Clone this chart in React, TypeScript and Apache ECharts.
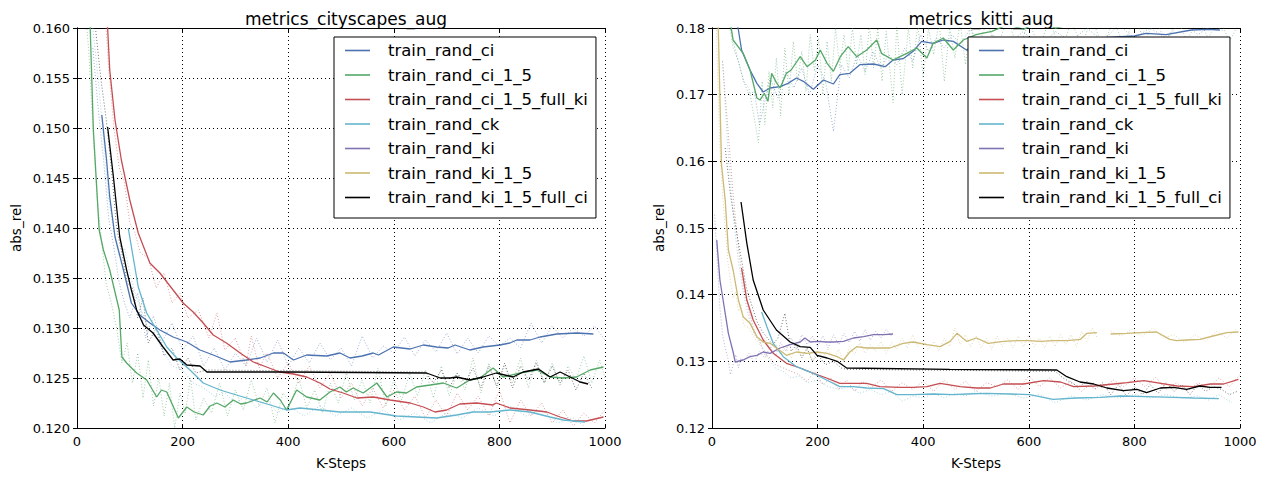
import React, { useEffect, useRef } from "react";
import * as echarts from "echarts";

type P = [number, number | string];

const NAMES = [
  "train_rand_ci",
  "train_rand_ci_1_5",
  "train_rand_ci_1_5_full_ki",
  "train_rand_ck",
  "train_rand_ki",
  "train_rand_ki_1_5",
  "train_rand_ki_1_5_full_ci",
];
const COLORS = ["#4C72B0", "#55A868", "#C44E52", "#64B5CD", "#8172B2", "#CCB974", "#000000"];

const TITLES = ["metrics_cityscapes_aug", "metrics_kitti_aug"];

// ---------- cityscapes (left) smoothed ----------
const L_ci: P[] = [[47,0.1513],[56,0.1468],[62,0.1431],[72,0.1391],[88,0.1358],[103,0.1325],[119,0.1313],[138,0.1305],[157,0.1298],[182,0.1291],[208,0.1286],[233,0.1278],[258,0.1273],[290,0.1266],[321,0.1268],[347,0.127],[372,0.1275],[391,0.1275],[410,0.1268],[435,0.1273],[473,0.1272],[498,0.1275],[517,0.127],[540,0.1272],[561,0.1275],[571,0.1273],[599,0.1281],[631,0.1279],[656,0.1283],[681,0.1281],[703,0.128],[716,0.1283],[744,0.1278],[769,0.1281],[801,0.1283],[820,0.1285],[833,0.1288],[858,0.1288],[877,0.1291],[909,0.1294],[947,0.1295],[978,0.1294]];
const L_ci15: P[] = [[12,0.172],[25,0.16],[31,0.1498],[42,0.1398],[50,0.1378],[62,0.1358],[80,0.1318],[85,0.1271],[94,0.1265],[113,0.1255],[132,0.1248],[151,0.1231],[160,0.1238],[170,0.1236],[192,0.121],[208,0.1221],[222,0.1216],[239,0.1213],[252,0.1222],[265,0.1225],[280,0.1221],[296,0.1228],[310,0.1224],[321,0.1225],[347,0.123],[360,0.1226],[372,0.1235],[385,0.1228],[397,0.1218],[416,0.1238],[435,0.1231],[460,0.1228],[479,0.1236],[498,0.1241],[510,0.1236],[523,0.124],[542,0.1235],[568,0.1245],[587,0.1231],[605,0.1236],[624,0.1235],[643,0.1241],[669,0.1243],[694,0.1245],[719,0.124],[744,0.1248],[763,0.125],[788,0.126],[807,0.1251],[839,0.1255],[871,0.1258],[896,0.1251],[921,0.125],[946,0.1251],[972,0.1258],[997,0.1261]];
const L_fullki: P[] = [[52,0.166],[58,0.16],[62,0.1558],[72,0.1508],[84,0.1468],[100,0.1428],[116,0.1395],[138,0.1365],[157,0.1355],[182,0.1338],[201,0.1325],[220,0.1316],[239,0.1305],[258,0.1293],[283,0.1285],[309,0.1275],[334,0.1266],[359,0.1261],[384,0.1256],[410,0.1254],[435,0.1251],[460,0.1245],[479,0.1239],[504,0.1235],[530,0.123],[561,0.1231],[593,0.1228],[631,0.1225],[656,0.1221],[678,0.1216],[700,0.1218],[725,0.1224],[757,0.1225],[788,0.1223],[794,0.1225],[820,0.122],[858,0.1218],[890,0.1216],[915,0.1211],[940,0.1207],[965,0.1207],[997,0.1211]];
const L_ck: P[] = [[97,0.14],[116,0.1341],[132,0.1315],[151,0.1298],[170,0.1281],[189,0.127],[214,0.1258],[239,0.1245],[271,0.1238],[302,0.1233],[334,0.1228],[366,0.1223],[397,0.1218],[422,0.122],[460,0.1218],[498,0.1216],[517,0.1216],[555,0.1216],[605,0.1212],[643,0.1211],[681,0.121],[719,0.1213],[750,0.1216],[782,0.1216],[820,0.1218],[858,0.1216],[896,0.1211],[921,0.1208],[962,0.1206]];
const L_fullci: P[] = [[58,0.1501],[69,0.1451],[81,0.1391],[94,0.1358],[103,0.1338],[113,0.1318],[126,0.1303],[144,0.1295],[163,0.1281],[182,0.1268],[195,0.1269],[208,0.1263],[233,0.1262],[246,0.1256],[400,0.1256],[662,0.1255],[688,0.125],[707,0.125],[719,0.1251],[744,0.1248],[769,0.1251],[794,0.1255],[826,0.1251],[845,0.1256],[874,0.1259],[896,0.1251],[915,0.1256],[934,0.1251],[953,0.1246],[968,0.1244]];

// ---------- cityscapes (left) raw ----------
const L_ci_raw: P[] = [[30,0.158],[40,0.152],[50,0.147],[60,0.141],[70,0.138],[80,0.1345],[90,0.1325],[100,0.131],[115,0.1335],[130,0.129],[145,0.1312],[160,0.1285],[180,0.1305],[200,0.1278],[220,0.1292],[240,0.1262],[260,0.128],[280,0.1258],[300,0.1275],[320,0.1262],[340,0.129],[360,0.1266],[380,0.1288],[400,0.1262],[420,0.128],[440,0.1265],[460,0.1285],[480,0.1268],[500,0.128],[520,0.1262],[540,0.1292],[560,0.127],[580,0.1282],[600,0.1275],[620,0.1291],[640,0.1272],[660,0.1288],[680,0.1276],[700,0.1295],[720,0.1274],[740,0.129],[760,0.1275],[780,0.1292],[800,0.1282],[820,0.129],[840,0.128],[860,0.1305],[880,0.1285],[900,0.1302],[920,0.129],[940,0.13],[960,0.1292],[980,0.1302],[1000,0.1288]];
const L_ci15_raw: P[] = [[15,0.162],[22,0.158],[30,0.15],[38,0.143],[46,0.139],[55,0.1345],[65,0.1325],[75,0.13],[85,0.1265],[95,0.1285],[105,0.1245],[115,0.1275],[125,0.123],[135,0.1268],[145,0.1222],[155,0.125],[165,0.1212],[175,0.1245],[185,0.12],[195,0.1235],[205,0.1215],[215,0.125],[225,0.1208],[240,0.123],[255,0.1215],[270,0.1245],[285,0.1212],[300,0.1238],[315,0.1218],[330,0.1248],[345,0.1222],[360,0.124],[375,0.1205],[390,0.1235],[405,0.1225],[420,0.125],[435,0.122],[450,0.1238],[465,0.1215],[480,0.1245],[495,0.1225],[510,0.1255],[525,0.1228],[540,0.1248],[555,0.1225],[570,0.126],[585,0.1222],[600,0.1248],[615,0.1228],[630,0.1255],[645,0.1232],[660,0.1258],[675,0.123],[690,0.1262],[705,0.1232],[720,0.1255],[735,0.1238],[750,0.127],[765,0.1235],[780,0.1265],[795,0.124],[810,0.1262],[825,0.1245],[840,0.127],[855,0.124],[870,0.1268],[885,0.1245],[900,0.1265],[915,0.1242],[930,0.1262],[945,0.1248],[960,0.1272],[975,0.1245],[990,0.1268],[1000,0.125]];
const L_fullki_raw: P[] = [[40,0.172],[50,0.164],[60,0.156],[70,0.15],[80,0.146],[90,0.1445],[100,0.1405],[110,0.1395],[120,0.1375],[135,0.137],[150,0.134],[165,0.1355],[180,0.1325],[195,0.1335],[210,0.131],[230,0.1318],[250,0.129],[265,0.1315],[280,0.1278],[300,0.129],[320,0.1262],[330,0.1292],[345,0.126],[360,0.1275],[380,0.125],[400,0.1265],[420,0.1245],[440,0.1262],[460,0.124],[480,0.1255],[500,0.123],[520,0.1245],[540,0.1222],[560,0.124],[580,0.122],[600,0.1238],[620,0.1218],[640,0.1232],[660,0.121],[680,0.1228],[700,0.1212],[720,0.1235],[740,0.1218],[760,0.1232],[780,0.1212],[800,0.1238],[820,0.1205],[840,0.1228],[860,0.1212],[880,0.1225],[900,0.1205],[920,0.1218],[940,0.1202],[960,0.1215],[980,0.1205],[1000,0.1218]];
const L_ck_raw: P[] = [[30,0.16],[40,0.155],[50,0.149],[60,0.143],[70,0.1395],[80,0.1372],[90,0.138],[100,0.1355],[110,0.1335],[120,0.132],[135,0.13],[150,0.129],[165,0.1275],[180,0.1262],[200,0.1258],[220,0.1245],[240,0.124],[260,0.1232],[280,0.1235],[300,0.1225],[320,0.1232],[340,0.122],[360,0.1228],[380,0.1215],[400,0.1222],[430,0.1212],[460,0.1222],[490,0.1212],[520,0.122],[550,0.121],[580,0.1218],[610,0.1208],[640,0.1215],[670,0.1205],[700,0.1215],[730,0.121],[760,0.122],[790,0.1212],[820,0.1222],[850,0.1212],[880,0.1218],[910,0.1205],[940,0.121],[960,0.1202]];
const L_fullci_raw: P[] = [[35,0.16],[45,0.155],[55,0.151],[65,0.146],[75,0.14],[85,0.1375],[95,0.1345],[105,0.134],[115,0.131],[125,0.133],[135,0.1285],[150,0.13],[165,0.1272],[180,0.128],[195,0.1258],[210,0.127],[225,0.1255],[245,0.1258],[660,0.1256],[675,0.1245],[690,0.1258],[705,0.124],[720,0.1255],[735,0.1245],[750,0.126],[765,0.124],[780,0.1262],[795,0.1242],[810,0.1265],[825,0.124],[840,0.1262],[855,0.1248],[870,0.1265],[885,0.1245],[900,0.1262],[915,0.1245],[930,0.1258],[945,0.1238],[960,0.1255],[975,0.124]];

// ---------- kitti (right) smoothed ----------
const R_ci: P[] = [[30,0.188],[50,0.1797],[56,0.1767],[72,0.1737],[85,0.1717],[97,0.1704],[110,0.171],[129,0.1712],[144,0.1717],[160,0.1725],[173,0.172],[192,0.1708],[211,0.1722],[230,0.1716],[242,0.173],[261,0.1732],[280,0.1745],[306,0.1746],[328,0.1742],[343,0.1752],[362,0.1754],[381,0.1765],[397,0.178],[419,0.1777],[438,0.1782],[457,0.178],[482,0.1767],[520,0.1772],[560,0.1775],[600,0.1778],[650,0.178],[700,0.1783],[750,0.1786],[800,0.1788],[822,0.1792],[860,0.179],[908,0.1797],[940,0.1798],[962,0.1797]];
const R_ci15: P[] = [[25,0.19],[37,0.1797],[40,0.1782],[59,0.1762],[72,0.1737],[85,0.1695],[91,0.1692],[99,0.1702],[106,0.169],[113,0.1732],[122,0.1718],[129,0.171],[141,0.1732],[150,0.1737],[167,0.1757],[180,0.1742],[196,0.1752],[205,0.1767],[218,0.1747],[230,0.1735],[243,0.1757],[258,0.1772],[274,0.1757],[293,0.1767],[312,0.1782],[321,0.1762],[343,0.1752],[356,0.1757],[369,0.1762],[388,0.177],[407,0.1755],[419,0.1777],[438,0.1785],[457,0.1767],[476,0.1782],[500,0.179],[530,0.1795],[560,0.1805],[590,0.1798],[620,0.181],[650,0.18],[680,0.1805],[720,0.1815],[760,0.1808],[800,0.182],[850,0.181],[900,0.1815],[950,0.182],[1000,0.1818]];
const R_fullki: P[] = [[56,0.144],[66,0.1392],[78,0.1362],[97,0.1332],[116,0.1312],[141,0.1297],[167,0.129],[192,0.1282],[217,0.1275],[242,0.1267],[268,0.1267],[293,0.1267],[318,0.1262],[356,0.1261],[381,0.1261],[407,0.1262],[432,0.1267],[470,0.1262],[501,0.126],[527,0.126],[552,0.1266],[590,0.1266],[628,0.1271],[660,0.1269],[685,0.1262],[723,0.1263],[761,0.1266],[786,0.1268],[818,0.1271],[850,0.1267],[881,0.1263],[912,0.1262],[944,0.1266],[969,0.1266],[997,0.1273]];
const R_ck: P[] = [[94,0.1374],[104,0.1352],[116,0.1327],[135,0.1307],[160,0.1292],[192,0.1282],[217,0.1272],[242,0.1262],[268,0.1262],[293,0.126],[325,0.1259],[350,0.125],[381,0.125],[419,0.1251],[457,0.125],[482,0.1251],[520,0.1252],[564,0.1251],[602,0.125],[646,0.1243],[690,0.1245],[735,0.1246],[773,0.1248],[823,0.1247],[874,0.1246],[912,0.1245],[960,0.1244]];
const R_ki: P[] = [[9,0.1482],[15,0.1422],[21,0.1392],[31,0.1342],[40,0.1314],[44,0.1299],[59,0.1302],[72,0.1307],[85,0.1309],[97,0.1314],[110,0.1312],[129,0.132],[148,0.1325],[167,0.1329],[176,0.1335],[186,0.1329],[199,0.133],[218,0.1329],[230,0.1329],[249,0.133],[268,0.1335],[287,0.1337],[306,0.134],[325,0.134],[343,0.1341]];
const R_ki15: P[] = [[5,0.19],[12,0.1797],[18,0.1595],[25,0.1542],[31,0.1467],[40,0.1437],[50,0.1392],[59,0.1367],[72,0.1357],[85,0.1337],[97,0.1329],[110,0.1327],[122,0.132],[141,0.1309],[160,0.1314],[180,0.1312],[199,0.1314],[218,0.1312],[237,0.1307],[249,0.1302],[261,0.1314],[274,0.1322],[293,0.132],[312,0.132],[337,0.132],[362,0.1327],[381,0.1329],[407,0.1325],[432,0.1322],[451,0.133],[464,0.1342],[482,0.133],[501,0.1335],[523,0.1327],[552,0.133],[578,0.1331],[600,0.1331],[622,0.133],[647,0.1331],[672,0.1331],[698,0.1333],[710,0.1342],[729,0.1343],[742,"-"],[755,0.1341],[786,0.1342],[811,0.1343],[842,0.1344],[867,0.1333],[880,0.1331],[899,0.1332],[924,0.1333],[949,0.1338],[975,0.1343],[997,0.1344]];
const R_fullci: P[] = [[55,0.1539],[66,0.1477],[78,0.1422],[97,0.1377],[122,0.1347],[148,0.1329],[167,0.1322],[186,0.1321],[199,0.1309],[218,0.1305],[237,0.13],[255,0.129],[450,0.1288],[653,0.1287],[672,0.1277],[697,0.1269],[723,0.1266],[748,0.126],[779,0.1256],[805,0.1258],[823,0.1253],[849,0.126],[874,0.1261],[899,0.1258],[924,0.1263],[943,0.1261],[965,0.1261]];

// ---------- kitti (right) raw ----------
const R_ci_raw: P[] = [[10,0.19],[20,0.185],[30,0.182],[40,0.178],[50,0.175],[60,0.172],[70,0.17],[80,0.1705],[90,0.1655],[100,0.169],[110,0.1725],[125,0.1695],[140,0.1735],[155,0.171],[170,0.174],[185,0.17],[200,0.1745],[215,0.172],[230,0.1645],[245,0.1745],[260,0.1725],[275,0.176],[290,0.1735],[305,0.1765],[320,0.174],[335,0.176],[350,0.1745],[365,0.177],[380,0.175],[395,0.179],[410,0.1765],[425,0.1785],[440,0.177],[455,0.179],[470,0.1775],[490,0.18],[510,0.1765],[530,0.179],[560,0.1775],[590,0.1795],[620,0.177],[650,0.1795],[680,0.178],[710,0.18],[740,0.178],[770,0.1805],[800,0.1785],[830,0.18],[860,0.1785],[890,0.181],[920,0.179],[950,0.1805],[970,0.1795]];
const R_ci15_raw: P[] = [[20,0.19],[30,0.182],[40,0.177],[50,0.175],[60,0.172],[70,0.171],[80,0.1665],[88,0.1628],[95,0.172],[100,0.1655],[108,0.1735],[115,0.168],[122,0.1755],[130,0.1668],[138,0.177],[146,0.17],[154,0.178],[162,0.172],[170,0.1765],[178,0.1705],[186,0.179],[194,0.1735],[202,0.1785],[210,0.17],[218,0.178],[226,0.172],[234,0.18],[242,0.174],[250,0.179],[258,0.1735],[266,0.18],[274,0.1745],[282,0.179],[290,0.173],[298,0.1805],[306,0.174],[314,0.18],[322,0.172],[330,0.1795],[343,0.1688],[350,0.1805],[360,0.17],[372,0.18],[380,0.174],[390,0.1805],[400,0.1725],[410,0.18],[420,0.176],[430,0.181],[440,0.172],[450,0.18],[460,0.1755],[470,0.181],[480,0.1745],[490,0.1805],[500,0.176],[520,0.181],[540,0.177],[560,0.1815],[580,0.1765],[600,0.181],[620,0.177],[640,0.1815],[660,0.176],[680,0.181],[700,0.1775],[720,0.1815],[740,0.177],[760,0.1812],[780,0.1775],[800,0.1815],[820,0.178],[840,0.1815],[860,0.1775],[880,0.1815],[900,0.178],[920,0.1815],[940,0.1785],[960,0.1815],[980,0.178],[1000,0.181]];
const R_fullki_raw: P[] = [[20,0.175],[30,0.165],[40,0.155],[50,0.147],[60,0.141],[70,0.1375],[80,0.1345],[90,0.133],[100,0.131],[110,0.1305],[120,0.1295],[135,0.129],[150,0.1285],[165,0.128],[180,0.127],[195,0.1285],[210,0.1265],[225,0.1275],[240,0.1258],[255,0.1272],[270,0.1255],[285,0.127],[300,0.126],[320,0.1272],[340,0.1255],[360,0.1268],[380,0.1258],[400,0.127],[420,0.1255],[440,0.1272],[460,0.1258],[480,0.127],[500,0.1255],[520,0.1268],[540,0.1262],[560,0.1272],[580,0.1258],[600,0.1278],[620,0.1262],[640,0.1275],[660,0.126],[680,0.127],[700,0.1255],[720,0.1268],[740,0.126],[760,0.1272],[780,0.1262],[800,0.1275],[820,0.1262],[840,0.1276],[860,0.1258],[880,0.1268],[900,0.1255],[920,0.1268],[940,0.126],[960,0.1275],[980,0.1262],[1000,0.128]];
const R_ck_raw: P[] = [[20,0.175],[30,0.162],[40,0.152],[50,0.145],[60,0.14],[70,0.1365],[80,0.134],[90,0.133],[100,0.1315],[110,0.13],[120,0.129],[135,0.1285],[150,0.1275],[165,0.1278],[180,0.1268],[200,0.1272],[220,0.1262],[240,0.1258],[260,0.1262],[280,0.1252],[300,0.1258],[320,0.125],[340,0.1255],[360,0.124],[380,0.1248],[400,0.1245],[420,0.1252],[440,0.1245],[460,0.1252],[480,0.1248],[500,0.1255],[530,0.1248],[560,0.1252],[590,0.1245],[620,0.125],[650,0.1238],[680,0.1248],[710,0.1242],[740,0.125],[770,0.1245],[800,0.125],[830,0.1245],[860,0.125],[890,0.1245],[920,0.1248],[940,0.1242],[960,0.125],[985,0.1238]];
const R_ki_raw: P[] = [[5,0.152],[10,0.145],[15,0.138],[20,0.134],[25,0.132],[30,0.1305],[35,0.128],[40,0.1295],[45,0.131],[50,0.129],[55,0.1305],[60,0.13],[70,0.1312],[80,0.1298],[90,0.1315],[100,0.1305],[110,0.1322],[120,0.1308],[130,0.1328],[140,0.1315],[150,0.1335],[160,0.1318],[170,0.134],[180,0.1325],[190,0.1338],[200,0.1322],[210,0.1338],[220,0.132],[230,0.134],[240,0.1325],[250,0.1342],[260,0.1328],[270,0.1345],[280,0.133],[290,0.1348],[300,0.1332],[310,0.1345],[320,0.1335],[330,0.1348],[340,0.1338]];
const R_ki15_raw: P[] = [[5,0.19],[10,0.175],[15,0.162],[20,0.155],[25,0.15],[30,0.145],[35,0.142],[40,0.1395],[45,0.1405],[50,0.1375],[55,0.1385],[60,0.1355],[70,0.135],[80,0.1335],[90,0.1325],[100,0.1335],[110,0.1318],[120,0.1328],[130,0.131],[140,0.1322],[150,0.1305],[160,0.132],[170,0.1308],[180,0.1318],[190,0.1302],[200,0.1315],[210,0.1305],[220,0.132],[230,0.13],[240,0.1318],[250,0.1298],[260,0.1322],[270,0.131],[280,0.1328],[290,0.1312],[300,0.1325],[310,0.1315],[320,0.133],[330,0.1312],[340,0.1328],[350,0.1318],[360,0.1335],[370,0.132],[380,0.134],[390,0.1322],[400,0.1332],[410,0.1318],[420,0.133],[430,0.1315],[440,0.1335],[450,0.1322],[460,0.135],[470,0.1325],[480,0.134],[490,0.1322],[500,0.1338],[510,0.132],[520,0.1335],[530,0.1318],[540,0.1338],[550,0.1322],[560,0.1335],[570,0.132],[580,0.1338],[590,0.1322],[600,0.134],[610,0.1322],[620,0.1335],[630,0.132],[640,0.1338],[650,0.1322],[660,0.134],[670,0.1325],[680,0.134],[690,0.1322],[700,0.1345],[710,0.133],[720,0.135],[730,0.1335],[742,"-"],[755,0.1345],[775,0.1338],[795,0.1348],[815,0.1338],[835,0.135],[855,0.1335],[875,0.134],[895,0.1328],[915,0.134],[935,0.133],[955,0.1345],[975,0.1335],[995,0.135]];
const R_fullci_raw: P[] = [[25,0.162],[35,0.155],[45,0.15],[56,0.1452],[65,0.141],[75,0.1385],[85,0.136],[95,0.1345],[105,0.1335],[115,0.1325],[125,0.1335],[138,0.1372],[150,0.1315],[160,0.1325],[170,0.1305],[180,0.132],[190,0.13],[200,0.131],[215,0.1295],[230,0.13],[245,0.129],[255,0.1288],[650,0.1285],[665,0.1275],[680,0.1268],[695,0.1262],[710,0.127],[725,0.1258],[740,0.1268],[755,0.125],[770,0.1265],[785,0.1248],[800,0.1262],[815,0.125],[830,0.1265],[845,0.1252],[860,0.1268],[875,0.1255],[890,0.1265],[905,0.125],[920,0.1265],[935,0.1255],[950,0.1262],[965,0.1258],[980,0.125],[995,0.1255]];

const LEFT_SMOOTH = [L_ci, L_ci15, L_fullki, L_ck, null, null, L_fullci];
const LEFT_RAW = [L_ci_raw, L_ci15_raw, L_fullki_raw, L_ck_raw, null, null, L_fullci_raw];
const RIGHT_SMOOTH = [R_ci, R_ci15, R_fullki, R_ck, R_ki, R_ki15, R_fullci];
const RIGHT_RAW = [R_ci_raw, R_ci15_raw, R_fullki_raw, R_ck_raw, R_ki_raw, R_ki15_raw, R_fullci_raw];

const FONT = "DejaVu Sans";

export default function App() {
  const ref = useRef<HTMLDivElement>(null);
  useEffect(() => {
    if (!ref.current) return;
    const chart = echarts.init(ref.current, undefined, { renderer: "svg" });

    const grids = [
      { left: 77, top: 28, width: 528, height: 400 },
      { left: 712, top: 28, width: 528, height: 400 },
    ];
    const yCfg = [
      { min: 0.12, max: 0.16, interval: 0.005, dec: 3, gap: 54 },
      { min: 0.12, max: 0.18, interval: 0.01, dec: 2, gap: 46 },
    ];

    const xAxis: any[] = [];
    const yAxis: any[] = [];
    for (let g = 0; g < 2; g++) {
      xAxis.push({
        type: "value", gridIndex: g, min: 0, max: 1000, interval: 200,
        name: "K-Steps", nameLocation: "middle", nameGap: 28,
        nameTextStyle: { fontFamily: FONT, fontSize: 13.5, color: "#000" },
        axisLine: { show: true, lineStyle: { color: "#000", width: 1 } },
        axisTick: { show: true, inside: true, length: 4, lineStyle: { color: "#000" } },
        axisLabel: { fontFamily: FONT, fontSize: 13, color: "#000", margin: 7, formatter: (v: number) => String(v) },
        splitLine: { show: true, lineStyle: { color: "#000", type: [1, 3], width: 1 } },
      });
    }
    for (let g = 0; g < 2; g++) {
      xAxis.push({
        type: "value", gridIndex: g, min: 0, max: 1000, interval: 200, position: "top",
        axisLine: { show: true, lineStyle: { color: "#000", width: 1 } },
        axisTick: { show: true, inside: true, length: 4, lineStyle: { color: "#000" } },
        axisLabel: { show: false }, splitLine: { show: false },
      });
    }
    for (let g = 0; g < 2; g++) {
      const c = yCfg[g];
      yAxis.push({
        type: "value", gridIndex: g, min: c.min, max: c.max, interval: c.interval,
        name: "abs_rel", nameLocation: "middle", nameGap: c.gap,
        nameTextStyle: { fontFamily: FONT, fontSize: 13.5, color: "#000" },
        axisLine: { show: true, lineStyle: { color: "#000", width: 1 } },
        axisTick: { show: true, inside: true, length: 4, lineStyle: { color: "#000" } },
        axisLabel: { fontFamily: FONT, fontSize: 13, color: "#000", margin: 7, formatter: (v: number) => v.toFixed(c.dec) },
        splitLine: { show: true, lineStyle: { color: "#000", type: [1, 3], width: 1 } },
      });
    }
    for (let g = 0; g < 2; g++) {
      const c = yCfg[g];
      yAxis.push({
        type: "value", gridIndex: g, min: c.min, max: c.max, interval: c.interval, position: "right",
        axisLine: { show: true, lineStyle: { color: "#000", width: 1 } },
        axisTick: { show: true, inside: true, length: 4, lineStyle: { color: "#000" } },
        axisLabel: { show: false }, splitLine: { show: false },
      });
    }

    const series: any[] = [];
    const addSet = (smooth: any[], raw: any[], g: number) => {
      for (let i = 0; i < NAMES.length; i++) {
        if (raw[i]) {
          series.push({
            type: "line", name: NAMES[i] + "_raw_" + g, xAxisIndex: g, yAxisIndex: g,
            data: raw[i], symbol: "none", silent: true, z: 1,
            lineStyle: { color: COLORS[i], width: 1, type: [1, 2], opacity: 0.55 },
          });
        }
      }
      for (let i = 0; i < NAMES.length; i++) {
        if (smooth[i]) {
          series.push({
            type: "line", name: NAMES[i], xAxisIndex: g, yAxisIndex: g,
            data: smooth[i], symbol: "none", showSymbol: false, z: 3,
            itemStyle: { color: COLORS[i] },
            lineStyle: { color: COLORS[i], width: 1.3 },
          });
        }
      }
    };
    addSet(LEFT_SMOOTH, LEFT_RAW, 0);
    addSet(RIGHT_SMOOTH, RIGHT_RAW, 1);

    const legendBase = {
      orient: "vertical", data: NAMES, top: 37,
      icon: "rect",
      itemWidth: 25, itemHeight: 1.6, itemGap: 7.5,
      padding: [5, 8, 12, 11],
      borderColor: "#000", borderWidth: 1, borderRadius: 0, backgroundColor: "#fff",
      textStyle: { fontFamily: FONT, fontSize: 16.5, lineHeight: 14, color: "#000", padding: [0, 0, 0, 13] },
      selectedMode: false, z: 10,
    };

    chart.setOption({
      animation: false,
      backgroundColor: "#fff",
      textStyle: { fontFamily: FONT },
      title: [
        { text: TITLES[0], left: 341, top: 5, textAlign: "center", textStyle: { fontFamily: FONT, fontSize: 17, fontWeight: "normal", color: "#000" } },
        { text: TITLES[1], left: 976, top: 5, textAlign: "center", textStyle: { fontFamily: FONT, fontSize: 17, fontWeight: "normal", color: "#000" } },
      ],
      legend: [
        { ...legendBase, left: 334 },
        { ...legendBase, left: 968 },
      ],
      grid: grids,
      xAxis,
      yAxis,
      series,
    });
    return () => chart.dispose();
  }, []);
  return <div ref={ref} style={{ position: "fixed", left: 0, top: 0, width: 1266, height: 479 }} />;
}
